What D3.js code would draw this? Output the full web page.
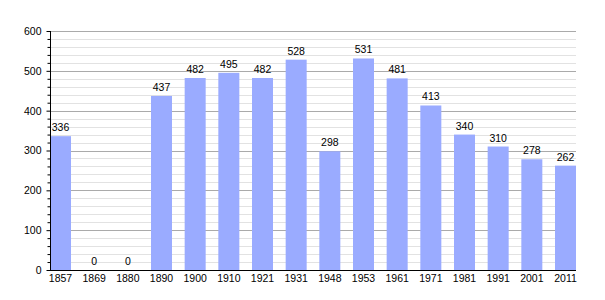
<!DOCTYPE html>
<html>
<head>
<meta charset="utf-8">
<script src="https://cdn.jsdelivr.net/npm/d3@7"></script>
<style>
  body { margin: 0; background: #fff; }
  text { font-family: "Liberation Sans", Arial, sans-serif; font-size: 10.5px; fill: #000; }
</style>
</head>
<body>
<div id="chart"></div>
<script>
var years = ["1857", "1869", "1880", "1890", "1900", "1910", "1921", "1931", "1948", "1953", "1961", "1971", "1981", "1991", "2001", "2011"];
var population = [336, 0, 0, 437, 482, 495, 482, 528, 298, 531, 481, 413, 340, 310, 278, 262];
var yMajorTicks = [0, 100, 200, 300, 400, 500, 600];

function draw_Population() {
    "use strict";
    var width = 605, height = 300;
    var mLeft = 50, mRight = 576, mTop = 31, mBottom = 270;

    var svg = d3.select("#chart")
        .append("svg")
        .attr("width", width)
        .attr("height", height);

    var x = d3.scaleBand()
        .domain(years)
        .range([mLeft, mRight])
        .paddingInner(0.376)
        .paddingOuter(0);

    var y = d3.scaleLinear()
        .domain([0, 600])
        .range([mBottom, mTop]);

    // minor grid every 20
    var minor = d3.range(20, 600, 20).filter(function (d) { return d % 100 !== 0; });
    svg.selectAll("line.minor")
        .data(minor)
        .enter()
        .append("line")
        .attr("x1", mLeft)
        .attr("x2", mRight)
        .attr("y1", function (d) { return Math.round(y(d)) + 0.5; })
        .attr("y2", function (d) { return Math.round(y(d)) + 0.5; })
        .style("stroke", "#e2e2e2")
        .style("stroke-width", 1);

    svg.selectAll("line.major")
        .data(yMajorTicks.slice(1))
        .enter()
        .append("line")
        .attr("x1", mLeft)
        .attr("x2", mRight)
        .attr("y1", function (d) { return Math.round(y(d)) + 0.5; })
        .attr("y2", function (d) { return Math.round(y(d)) + 0.5; })
        .style("stroke", "#aaaaaa")
        .style("stroke-width", 1);

    // bars
    svg.selectAll("rect.bar")
        .data(population)
        .enter()
        .append("rect")
        .attr("x", function (d, i) { return x(years[i]); })
        .attr("width", x.bandwidth())
        .attr("y", function (d) { return y(d); })
        .attr("height", function (d) { return y(0) - y(d); })
        .style("fill", "#9aabff");

    // value labels
    svg.selectAll("text.value")
        .data(population)
        .enter()
        .append("text")
        .attr("x", function (d, i) { return x(years[i]) + x.bandwidth() / 2; })
        .attr("y", function (d) { return y(d) - 5; })
        .attr("text-anchor", "middle")
        .text(function (d) { return d; });

    // y axis
    var gy = svg.append("g")
        .attr("transform", "translate(" + (mLeft + 0.5) + ",0)")
        .call(d3.axisLeft(y).tickValues(yMajorTicks).tickSize(4).tickPadding(5));
    gy.select(".domain").remove();
    gy.selectAll("text").style("font-size", "10.5px").style("font-family", "Liberation Sans, Arial, sans-serif");

    var gyMinor = svg.append("g")
        .attr("transform", "translate(" + (mLeft + 0.5) + ",0)")
        .call(d3.axisLeft(y).tickValues(minor).tickSize(3).tickFormat(""));
    gyMinor.select(".domain").remove();

    svg.append("line")
        .attr("x1", mLeft + 0.5).attr("x2", mLeft + 0.5)
        .attr("y1", mTop).attr("y2", mBottom + 1)
        .style("stroke", "#000");

    // x axis
    var gx = svg.append("g")
        .attr("transform", "translate(0," + (mBottom + 0.5) + ")")
        .call(d3.axisBottom(x).tickSize(0).tickPadding(4));
    gx.select(".domain").remove();
    gx.selectAll("text").style("font-size", "10.5px").style("font-family", "Liberation Sans, Arial, sans-serif");

    svg.append("line")
        .attr("x1", mLeft).attr("x2", mRight)
        .attr("y1", mBottom + 0.5).attr("y2", mBottom + 0.5)
        .style("stroke", "#000");
}

draw_Population();
</script>
</body>
</html>
